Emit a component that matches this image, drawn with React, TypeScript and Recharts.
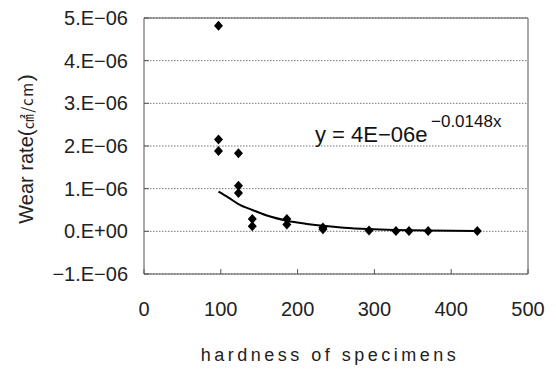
import {
  ComposedChart, CartesianGrid, Line, ReferenceLine, Scatter, XAxis, YAxis, Customized,
} from "recharts";

// measured points (hardness vs wear rate, cm³/cm)
const hardness = [97, 97, 97, 123, 123, 123, 141, 141, 186, 186, 233, 233, 293, 328, 345, 370, 434];
const wearRate = [
  4.82e-6, 2.15e-6, 1.88e-6, 1.83e-6, 1.07e-6, 0.9e-6, 0.29e-6, 0.12e-6,
  0.29e-6, 0.16e-6, 0.09e-6, 0.05e-6, 0.02e-6, 0.01e-6, 0.01e-6, 0.01e-6, 0.01e-6,
];

// exponential trendline as drawn
const trendX = [97, 110, 123, 141, 160, 186, 210, 233, 260, 293, 327, 371, 434];
const trendY = [
  0.93e-6, 0.79e-6, 0.64e-6, 0.5e-6, 0.37e-6, 0.25e-6, 0.18e-6, 0.13e-6,
  0.085e-6, 0.052e-6, 0.032e-6, 0.017e-6, 0.006e-6,
];

const xTicks = [0, 100, 200, 300, 400, 500];
const yTicks = [-1e-6, 0, 1e-6, 2e-6, 3e-6, 4e-6, 5e-6];
const yTickLabels = ["−1.E−06", "0.E+00", "1.E−06", "2.E−06", "3.E−06", "4.E−06", "5.E−06"];

const points = hardness.map((h, i) => ({ x: h, y: wearRate[i] }));
const trend = trendX.map((h, i) => ({ x: h, y: trendY[i] }));

const font = "'Liberation Sans', Arial, sans-serif";
const axisColor = "#555";

const Diamond = (props: any) => {
  const { cx, cy } = props;
  if (cx == null || cy == null) return null;
  const w = 4.5, h = 5;
  return <polygon points={`${cx},${cy - h} ${cx + w},${cy} ${cx},${cy + h} ${cx - w},${cy}`} fill="#000" />;
};

const YLabel = () => (
  <text x={33} y={149} transform="rotate(-90 33 149)" textAnchor="middle" fontFamily={font} fill="#222">
    <tspan fontSize={20}>Wear rate</tspan>
    <tspan fontSize={21}>(</tspan>
    <tspan fontSize={15} letterSpacing={1.5} fontFamily="'Noto Sans CJK KR', sans-serif">㎠/cm</tspan>
    <tspan fontSize={21}>)</tspan>
  </text>
);

const XLabel = () => (
  <text x={330} y={361} textAnchor="middle" fontFamily={font} fontSize={18} letterSpacing={3.5} fill="#222">
    hardness of specimens
  </text>
);

const Equation = () => (
  <text fontFamily={font} fill="#111">
    <tspan x={315} y={142} fontSize={22}>y = 4E−06e</tspan>
    <tspan x={431} y={127} fontSize={17}>−0.0148x</tspan>
  </text>
);

export default function App() {
  return (
    <div style={{ position: "absolute", left: 0, top: 0, background: "#fff" }}>
      <ComposedChart width={556} height={370} margin={{ top: 18, right: 28, left: 0, bottom: 0 }}>
        <CartesianGrid horizontal vertical={false} stroke="#777" strokeDasharray="1.5 1.5" />
        <XAxis
          type="number" dataKey="x" domain={[0, 500]} ticks={xTicks} height={96}
          stroke={axisColor} tickSize={-5} tickMargin={33}
          tick={{ fontSize: 20, fill: "#222", fontFamily: font }}
          label={<XLabel />}
        />
        <YAxis
          type="number" dataKey="y" domain={[-1e-6, 5e-6]} ticks={yTicks} width={144}
          stroke={axisColor} tickSize={-5} tickMargin={21}
          tickFormatter={(_v: number, i: number) => yTickLabels[i]}
          tick={{ fontSize: 20, fill: "#222", fontFamily: font }}
          label={<YLabel />}
        />
        <ReferenceLine y={5e-6} stroke={axisColor} strokeWidth={1} />
        <ReferenceLine x={500} stroke={axisColor} strokeWidth={1} />
        <Line data={trend} dataKey="y" type="monotone" stroke="#000" strokeWidth={2} dot={false} isAnimationActive={false} />
        <Scatter data={points} dataKey="y" shape={<Diamond />} isAnimationActive={false} />
        <Customized component={<Equation />} />
      </ComposedChart>
    </div>
  );
}
